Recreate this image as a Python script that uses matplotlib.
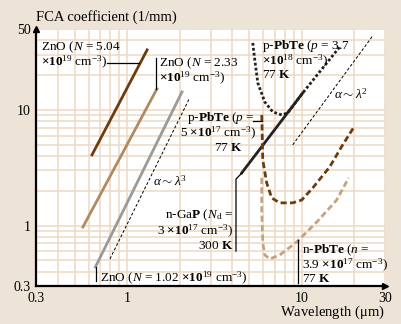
import numpy as np
import matplotlib
matplotlib.use('Agg')
import matplotlib.pyplot as plt
from matplotlib.lines import Line2D

plt.rcParams['font.family'] = ['Liberation Serif', 'DejaVu Serif']
plt.rcParams['mathtext.fontset'] = 'custom'
plt.rcParams['mathtext.rm'] = 'Liberation Serif'
plt.rcParams['mathtext.it'] = 'Liberation Serif:italic'
plt.rcParams['mathtext.bf'] = 'Liberation Serif:bold'

# data (wavelength in um, FCA coefficient in 1/mm)
zno_504_wl = [0.628, 1.30]
zno_504_a = [4.08, 33.0]
zno_233_wl = [0.557, 1.48]
zno_233_a = [0.97, 15.2]
zno_102_wl = [0.657, 2.06]
zno_102_a = [0.438, 14.3]
lam3_wl = [0.796, 2.28]
lam3_a = [0.514, 12.7]
lam2_wl = [8.88, 25.5]
lam2_a = [4.98, 43.6]
gap_wl = [4.53, 10.13]
gap_a = [2.85, 14.0]
ppbte37_wl = [5.24, 5.38, 5.60, 6.14, 6.82, 7.68, 8.31, 10.13, 16.5]
ppbte37_a = [37.9, 27.1, 17.1, 11.7, 9.6, 9.04, 9.41, 14.0, 35.0]
ppbte5_wl = [5.90, 5.98, 6.30, 6.73, 7.48, 8.87, 9.99, 11.55, 14.46, 17.16, 20.1]
ppbte5_a = [9.04, 3.69, 2.33, 1.73, 1.57, 1.57, 1.66, 2.11, 3.21, 4.98, 7.26]
npbte_wl = [5.90, 5.90, 5.98, 6.14, 6.56, 7.48, 9.36, 12.18, 15.85, 18.57]
npbte_a = [2.58, 1.36, 0.707, 0.556, 0.514, 0.556, 0.721, 1.07, 1.66, 2.58]

xticks = [0.3, 1, 10, 30]
xticklabels = ['0.3', '1', '10', '30']
yticks = [0.3, 1, 10, 50]
yticklabels = ['0.3', '1', '10', '50']

bg = '#ede3d7'
gridc = '#eed9c3'
dark_brown = '#6e3c0c'
tan = '#b08a60'
light_tan = '#c6a27e'
grey = '#9a9a9a'

W, H = 401, 324
fig = plt.figure(figsize=(W / 100, H / 100), dpi=100)
fig.patch.set_facecolor(bg)
ax = fig.add_axes([36 / W, 1 - 286 / H, 349 / W, 257 / H])
ax.set_facecolor('white')
ax.set_xscale('log')
ax.set_yscale('log')
ax.set_xlim(0.3, 30)
ax.set_ylim(0.3, 50)

# log grid, every unit of each decade
xgrid = list(np.arange(3, 10) / 10) + list(range(1, 10)) + [10, 20, 30]
ygrid = list(np.arange(3, 10) / 10) + list(range(1, 10)) + [10, 20, 30, 40, 50]
for v in xgrid:
    ax.axvline(v, color=gridc, lw=1.1, zorder=0)
for v in ygrid:
    ax.axhline(v, color=gridc, lw=1.1, zorder=0)

ax.set_xticks(xticks)
ax.set_xticklabels(xticklabels)
ax.set_yticks(yticks)
ax.set_yticklabels(yticklabels)
ax.minorticks_off()
ax.tick_params(length=0, labelsize=10, pad=4)
for s in ['top', 'right']:
    ax.spines[s].set_visible(False)
for s in ['left', 'bottom']:
    ax.spines[s].set_linewidth(1.6)
ax.plot([0], [1], marker='^', color='black', ms=5, transform=ax.transAxes, clip_on=False)
ax.plot([1], [0], marker='>', color='black', ms=5, transform=ax.transAxes, clip_on=False)

# curves
ax.plot(zno_504_wl, zno_504_a, color=dark_brown, lw=2)
ax.plot(zno_233_wl, zno_233_a, color=tan, lw=2)
ax.plot(zno_102_wl, zno_102_a, color=grey, lw=2)
ax.plot(lam3_wl, lam3_a, color='black', lw=0.7, ls=(0, (3, 2)))
ax.plot(lam2_wl, lam2_a, color='black', lw=0.7, ls=(0, (3, 2)))
ax.plot(gap_wl, gap_a, color='#222222', lw=2)
ax.plot(ppbte37_wl, ppbte37_a, color='#222222', lw=2, ls=(0, (1, 0.8)))
ax.plot(ppbte5_wl, ppbte5_a, color=dark_brown, lw=2, ls=(0, (2.2, 1.2)))
ax.plot(npbte_wl, npbte_a, color=light_tan, lw=2, ls=(0, (2.2, 1.2)))


# labels are placed in figure pixels (origin top-left)
def fp(x, y):
    return x / W, 1 - y / H


def label(x, y, s, ha='left', size=9.5):
    fig.text(*fp(x, y), s, ha=ha, va='center', fontsize=size)


def leader(xs, ys):
    fig.add_artist(Line2D([x / W for x in xs], [1 - y / H for y in ys],
                          color='black', lw=0.9))


cm3 = r'cm$^{-3}$)'
label(36, 17, 'FCA coefficient (1/mm)', size=10.5)
label(385, 312, r'Wavelength ($\mathrm{\mu}$m)', ha='right', size=10.5)

label(41, 47, r'ZnO ($N$ = 5.04')
label(41, 62, r'$\mathbf{\times 10}^{19}$ ' + cm3)
leader([107, 139], [63, 63])

label(159, 63, r'ZnO ($N$ = 2.33')
label(159, 78, r'$\mathbf{\times 10}^{19}$ ' + cm3)
leader([156, 156], [58, 89])

label(100, 278, r'ZnO ($N$ = 1.02 $\mathbf{\times 10}^{19}$ ' + cm3)
leader([96, 96], [267, 281])

label(153, 181, r'$\alpha \sim \lambda^3$')
label(334, 94, r'$\alpha \sim \lambda^2$')

label(262, 46, r'p-$\mathbf{PbTe}$ ($p$ = 3.7')
label(262, 61, r'$\mathbf{\times 10}^{18}$ ' + cm3)
label(262, 75, r'77 $\mathbf{K}$')

label(221, 118, r'p-$\mathbf{PbTe}$ ($p$ =', ha='center')
label(218, 133, r'5 $\mathbf{\times 10}^{17}$ ' + cm3, ha='center')
label(228, 148, r'77 $\mathbf{K}$', ha='center')
leader([253, 262], [121, 121])

label(233, 215, r'n-Ga$\mathbf{P}$ ($N_\mathrm{d}$ =', ha='right')
label(233, 231, r'3 $\mathbf{\times 10}^{17}$ ' + cm3, ha='right')
label(233, 246, r'300 $\mathbf{K}$', ha='right')
leader([236, 236, 242], [251, 179, 173])

label(302, 250, r'n-$\mathbf{PbTe}$ ($n$ =')
label(302, 265, r'3.9 $\mathbf{\times 10}^{17}$ ' + cm3)
label(302, 279, r'77 $\mathbf{K}$')
leader([298, 298], [240, 283])

fig.savefig('out.png', dpi=100, facecolor=bg)
